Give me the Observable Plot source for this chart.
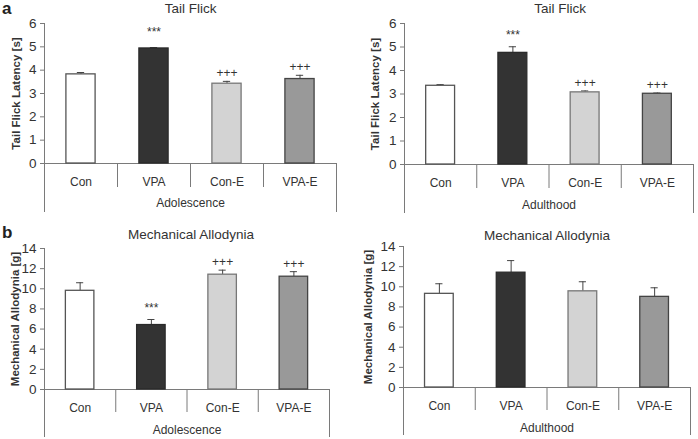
<!DOCTYPE html>
<html><head><meta charset="utf-8">
<script src="https://cdn.jsdelivr.net/npm/d3@7"></script>
<script src="https://cdn.jsdelivr.net/npm/@observablehq/plot@0.6"></script>
<style>
body{margin:0;background:#fff}
#c{position:relative;width:698px;height:439px;font-family:"Liberation Sans",Arial,sans-serif;overflow:hidden}
.p{position:absolute}
.lab{position:absolute;font-weight:bold;font-size:17px;color:#222;line-height:1}
</style></head><body><div id="c"></div>
<script>
const groups = ["Con", "VPA", "Con-E", "VPA-E"];
const fills = ["#ffffff", "#333333", "#d3d3d3", "#999999"];
const strokes = ["#555555", "#2a2a2a", "#777777", "#444444"];

// Tail flick latency [s]
const tfAdolMean = [3.82, 4.93, 3.42, 3.62];
const tfAdolSem  = [0.08, 0.04, 0.10, 0.16];
const tfAdolSig  = ["", "***", "+++", "+++"];
const tfAdultMean = [3.35, 4.75, 3.07, 3.01];
const tfAdultSem  = [0.05, 0.26, 0.06, 0.03];
const tfAdultSig  = ["", "***", "+++", "+++"];

// Mechanical allodynia [g]
const maAdolMean = [9.8, 6.4, 11.4, 11.2];
const maAdolSem  = [0.8, 0.55, 0.45, 0.5];
const maAdolSig  = ["", "***", "+++", "+++"];
const maAdultMean = [9.3, 11.4, 9.55, 9.0];
const maAdultSem  = [1.0, 1.2, 0.95, 0.9];
const maAdultSig  = ["", "", "", ""];

const tfTicks = [0, 1, 2, 3, 4, 5, 6];
const maTicks = [0, 2, 4, 6, 8, 10, 12, 14];

function panel(o) {
  const data = groups.map((g, i) => ({g, i, m: o.mean[i], s: o.sem[i], sig: o.sig[i]}));
  const lineC = "#7a7a7a";
  return Plot.plot({
    width: o.width, height: o.height,
    marginLeft: o.ml, marginRight: o.mr, marginTop: o.mt, marginBottom: o.mb,
    x: {type: "linear", domain: [0, 4]},
    y: {domain: [0, o.ticks[o.ticks.length - 1]]},
    color: {type: "identity"},
    style: {fontFamily: '"Liberation Sans", Arial, sans-serif', color: "#333", background: "transparent", overflow: "visible"},
    marks: [
      Plot.axisY({ticks: o.ticks, tickSize: 4, tickPadding: 4, fontSize: 13.5, label: null, stroke: lineC, tickFormat: d => String(d)}),
      Plot.axisX({ticks: [0, 1, 2, 3, 4], tickSize: o.sepLen, tickFormat: () => "", label: null, stroke: lineC}),
      Plot.axisX({ticks: [0, 4], tickSize: o.outerLen, tickFormat: () => "", label: null, stroke: lineC}),
      Plot.axisX({ticks: [0.5, 1.5, 2.5, 3.5], tickSize: 0, tickPadding: o.catOff, tickFormat: d => groups[Math.floor(d)], fontSize: 12, label: null}),
      Plot.axisX({ticks: [2], tickSize: 0, tickPadding: o.perOff, tickFormat: () => o.period, fontSize: 12, label: null}),
      Plot.ruleX([0], {stroke: lineC}),
      Plot.ruleY([0], {stroke: lineC}),
      Plot.ruleX(data, {x: d => d.i + 0.5, y1: "m", y2: d => d.m + d.s, stroke: "#444"}),
      Plot.ruleY(data, {y: d => d.m + d.s, x1: d => d.i + 0.45, x2: d => d.i + 0.55, stroke: "#444"}),
      Plot.rectY(data, {x1: d => d.i + 0.3, x2: d => d.i + 0.7, y1: 0, y2: "m", fill: d => fills[d.i], stroke: d => strokes[d.i], strokeWidth: 1.3}),
      Plot.text(data.filter(d => d.sig === "+++"), {x: d => d.i + 0.5, y: d => d.m + d.s, text: "sig", lineAnchor: "bottom", dy: -4, fontSize: 12, fill: "#333"}),
      Plot.text(data.filter(d => d.sig === "***"), {x: d => d.i + 0.5, y: d => d.m + d.s, text: "sig", lineAnchor: "bottom", dy: o.starDy, fontSize: 12, fill: "#333"}),
      Plot.text([o.title], {frameAnchor: "top", dy: o.titleDy, dx: o.titleDx, fontSize: 13.5, lineAnchor: "middle", fill: "#333"}),
      Plot.text([o.yLabel], {frameAnchor: "left", textAnchor: "middle", rotate: -90, dx: o.yDx, fontWeight: "bold", fontSize: 11.5, lineAnchor: "middle", fill: "#333"})
    ]
  });
}

const c = document.getElementById("c");
function place(el, left, top) {
  el.classList.add("p");
  el.style.left = left + "px";
  el.style.top = top + "px";
  c.appendChild(el);
}

place(panel({mean: tfAdolMean, sem: tfAdolSem, sig: tfAdolSig, ticks: tfTicks, yLabel: "Tail Flick Latency [s]", title: "Tail Flick", period: "Adolescence",
  width: 349, height: 215, ml: 44, mr: 13, mt: 23, mb: 52, sepLen: 24, outerLen: 49, catOff: 14, perOff: 35, titleDy: -15, titleDx: 0, yDx: -28, starDy: -12}), 0, 0);
place(panel({mean: tfAdultMean, sem: tfAdultSem, sig: tfAdultSig, ticks: tfTicks, yLabel: "Tail Flick Latency [s]", title: "Tail Flick", period: "Adulthood",
  width: 349, height: 215, ml: 55, mr: 5, mt: 23, mb: 51, sepLen: 24, outerLen: 49, catOff: 14, perOff: 36, titleDy: -15, titleDx: 11, yDx: -29, starDy: -8}), 349, 0);
place(panel({mean: maAdolMean, sem: maAdolSem, sig: maAdolSig, ticks: maTicks, yLabel: "Mechanical Allodynia [g]", title: "Mechanical Allodynia", period: "Adolescence",
  width: 349, height: 224, ml: 44, mr: 20, mt: 33, mb: 50, sepLen: 23, outerLen: 48, catOff: 14, perOff: 36, titleDy: -14, titleDx: 4, yDx: -29, starDy: -8}), 0, 215);
place(panel({mean: maAdultMean, sem: maAdultSem, sig: maAdultSig, ticks: maTicks, yLabel: "Mechanical Allodynia [g]", title: "Mechanical Allodynia", period: "Adulthood",
  width: 349, height: 224, ml: 54, mr: 8, mt: 31, mb: 52, sepLen: 23, outerLen: 48, catOff: 14, perOff: 36, titleDy: -11, titleDx: 0, yDx: -35, starDy: -8}), 349, 215);

const la = document.createElement("div"); la.className = "lab"; la.textContent = "a"; la.style.left = "2px"; la.style.top = "0px"; c.appendChild(la);
const lb = document.createElement("div"); lb.className = "lab"; lb.textContent = "b"; lb.style.left = "2px"; lb.style.top = "224px"; c.appendChild(lb);
</script>
</body></html>
